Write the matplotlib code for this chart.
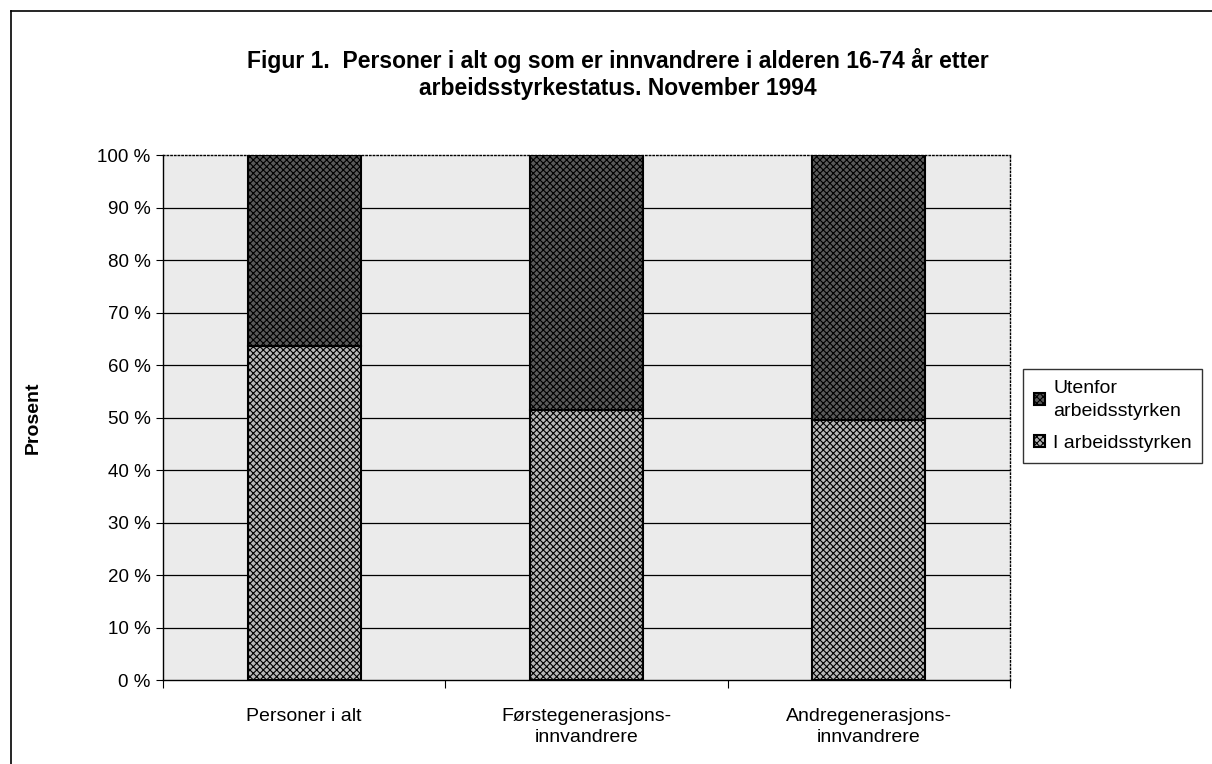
import matplotlib
matplotlib.use("Agg")
import matplotlib.pyplot as plt
from matplotlib.lines import Line2D

plt.rcParams['font.family'] = ['Liberation Sans', 'DejaVu Sans']
plt.rcParams['hatch.linewidth'] = 0.8

# data (prosent)
kategorier = ["Personer i alt", "Førstegenerasjons-\ninnvandrere", "Andregenerasjons-\ninnvandrere"]
i_arbeidsstyrken = [63.6, 51.4, 49.5]
utenfor = [36.4, 48.6, 50.5]
yticks = list(range(0, 101, 10))

fig = plt.figure(figsize=(12.12, 7.64), dpi=100)
ax = fig.add_axes([0.1345, 0.1099, 0.6988, 0.6872])

ax.set_facecolor('#ebebeb')
x = range(len(kategorier))
ax.bar(x, i_arbeidsstyrken, width=0.4, color='#b8b8b8', edgecolor='black',
       hatch='xxxxx', linewidth=1.5, label='I arbeidsstyrken', zorder=3)
ax.bar(x, utenfor, width=0.4, bottom=i_arbeidsstyrken, color='#5a5a5a', edgecolor='black',
       hatch='xxxxx', linewidth=1.5, label='Utenfor\narbeidsstyrken', zorder=3)

ax.set_ylim(0, 100)
ax.set_xlim(-0.5, 2.5)
ax.set_yticks(yticks)
ax.set_yticklabels([f"{v} %" for v in yticks], fontsize=13.5)
for v in yticks[1:-1]:
    ax.axhline(v, color='black', linewidth=0.9, zorder=2)

# ticks at category boundaries, labels centred under bars
ax.set_xticks([-0.5, 0.5, 1.5, 2.5])
ax.set_xticklabels([])
ax.set_xticks(list(x), minor=True)
ax.set_xticklabels(kategorier, minor=True, fontsize=14, linespacing=1.35)
ax.tick_params(axis='x', which='minor', length=0, pad=20)
ax.tick_params(axis='x', which='major', length=6, direction='out')
ax.tick_params(axis='y', length=5, direction='out', pad=4)

for s in ['top', 'right']:
    ax.spines[s].set_linestyle(':')
    ax.spines[s].set_linewidth(1)
for s in ['left', 'bottom']:
    ax.spines[s].set_linewidth(1)

ax.set_ylabel("Prosent", fontsize=14, fontweight='bold')
ax.yaxis.set_label_coords(-0.143, 0.5)

fig.text(0.51, 0.903, "Figur 1.  Personer i alt og som er innvandrere i alderen 16-74 år etter\narbeidsstyrkestatus. November 1994",
         ha='center', va='center', fontsize=16.5, fontweight='bold', linespacing=1.25)

h, l = ax.get_legend_handles_labels()
leg = fig.legend(h[::-1], l[::-1], loc='upper left', bbox_to_anchor=(1023/1212, 1 - 369/764),
                 borderaxespad=0, fontsize=14, frameon=True, fancybox=False, edgecolor='black',
                 handlelength=0.6, handleheight=0.6, handletextpad=0.4, labelspacing=0.8,
                 borderpad=0.55)
leg.get_frame().set_linewidth(1)
for t in leg.get_texts():
    t.set_linespacing(1.45)

# outer frame
fig.add_artist(Line2D([11/1212, 11/1212], [0, 1 - 11/764], color='black', linewidth=1.2))
fig.add_artist(Line2D([11/1212, 1], [1 - 11/764, 1 - 11/764], color='black', linewidth=1.2))

fig.savefig("out.png", dpi=100)
